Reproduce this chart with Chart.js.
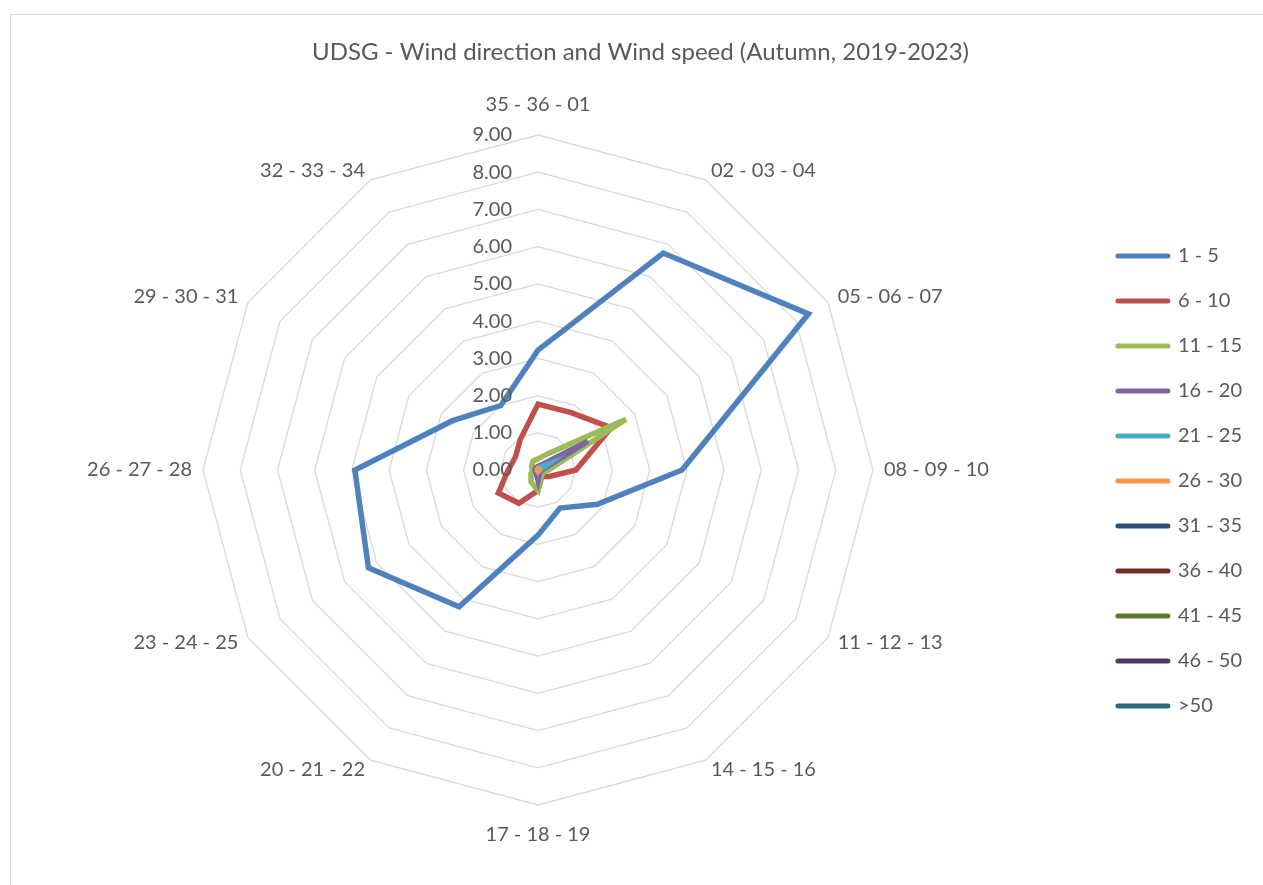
<!DOCTYPE html>
<html>
<head>
<meta charset="utf-8">
<title>UDSG - Wind direction and Wind speed</title>
<script src="https://cdn.jsdelivr.net/npm/chart.js@4.4.1/dist/chart.umd.min.js"></script>
<style>
  html, body { margin: 0; padding: 0; background: #fff; }
  #frame {
    position: absolute; left: 10px; top: 14px; width: 1253px; height: 871px;
    border-top: 1px solid #d9d9d9; border-left: 1px solid #d9d9d9; box-sizing: border-box;
  }
  #box { position: absolute; left: 0; top: 0; width: 1252px; height: 870px; }
</style>
</head>
<body>
<div id="frame"><div id="box"><canvas id="windChart"></canvas></div></div>
<script>
// Direction sectors (three 10-degree bins each), clockwise from north
const directions = [
    "35 - 36 - 01", "02 - 03 - 04", "05 - 06 - 07", "08 - 09 - 10",
    "11 - 12 - 13", "14 - 15 - 16", "17 - 18 - 19", "20 - 21 - 22",
    "23 - 24 - 25", "26 - 27 - 28", "29 - 30 - 31", "32 - 33 - 34"
];

const speedClasses = ["1 - 5", "6 - 10", "11 - 15", "16 - 20", "21 - 25", "26 - 30",
    "31 - 35", "36 - 40", "41 - 45", "46 - 50", ">50"];

const speedColors = ["#4f81bd", "#c0504d", "#9bbb59", "#8064a2", "#4bacc6", "#f79646",
    "#2c4d75", "#772c2a", "#5f7530", "#4d3b62", "#276a7c"];

// Frequency (%) per direction sector
const speed1to5   = [3.22, 6.73, 8.39, 3.87, 1.84, 1.18, 1.75, 4.24, 5.26, 4.92, 2.65, 2.00];
const speed6to10  = [1.77, 1.78, 2.27, 1.02, 0.35, 0.20, 0.55, 1.03, 1.23, 0.80, 0.70, 0.95];
const speed11to15 = [0.30, 0.50, 2.73, 0.28, 0.15, 0.18, 0.55, 0.37, 0.22, 0.15, 0.20, 0.27];
const speed16to20 = [0.10, 0.15, 1.55, 0.10, 0.08, 0.08, 0.27, 0.10, 0.08, 0.08, 0.08, 0.08];
const speed21to25 = [0.05, 0.08, 0.30, 0.05, 0.03, 0.03, 0.05, 0.03, 0.03, 0.03, 0.03, 0.03];
const speed26to30 = [0.03, 0.03, 0.04, 0.03, 0.02, 0.02, 0.03, 0.02, 0.02, 0.02, 0.02, 0.02];
const speed31to35 = [0, 0, 0, 0, 0, 0, 0, 0, 0, 0, 0, 0];
const speed36to40 = [0, 0, 0, 0, 0, 0, 0, 0, 0, 0, 0, 0];
const speed41to45 = [0, 0, 0, 0, 0, 0, 0, 0, 0, 0, 0, 0];
const speed46to50 = [0, 0, 0, 0, 0, 0, 0, 0, 0, 0, 0, 0];
const speedAbove50 = [0, 0, 0, 0, 0, 0, 0, 0, 0, 0, 0, 0];

const seriesValues = [speed1to5, speed6to10, speed11to15, speed16to20, speed21to25, speed26to30,
    speed31to35, speed36to40, speed41to45, speed46to50, speedAbove50];

const FONT = "Lato";
const TEXT_COLOR = "#595959";
const LABEL_SIZE = 20;
const LINE_WIDTH = 5.5;

Chart.defaults.font.family = FONT;

// Radar frame: fixed centre/radius, labels centred on their spoke,
// value labels drawn to the left of the north spoke
const radarFrame = {
    id: "radarFrame",
    afterLayout(chart) {
        const r = chart.scales.r;
        r.xCenter = 527;
        r.yCenter = 455;
        r.drawingArea = 335;

        const lh = LABEL_SIZE * 1.2;
        const n = r._pointLabels.length;
        r._pointLabelItems = r._pointLabels.map((text, i) => {
            const p = r.getPointPosition(i, r.drawingArea + 11);
            const deg = Math.round(i * 360 / n);
            let textAlign = "center";
            if (deg > 0 && deg < 180) textAlign = "left";
            if (deg > 180) textAlign = "right";
            let y = p.y - lh / 2;
            if (deg === 0) y = p.y - lh - 7;
            if (deg === 180) y = p.y + 7;
            return {visible: true, x: p.x, y: y, textAlign: textAlign,
                left: p.x, top: y, right: p.x, bottom: y + lh};
        });
    },
    afterDatasetsDraw(chart) {
        const r = chart.scales.r;
        const ctx = chart.ctx;
        ctx.save();
        ctx.font = LABEL_SIZE + "px " + FONT;
        ctx.fillStyle = TEXT_COLOR;
        ctx.textAlign = "right";
        ctx.textBaseline = "middle";
        r.ticks.forEach(t => {
            ctx.fillText(t.label, r.xCenter - 26, r.yCenter - r.getDistanceFromCenterForValue(t.value));
        });
        ctx.restore();
    }
};

const ctx = document.getElementById("windChart").getContext("2d");

const windChart = new Chart(ctx, {
    type: "radar",
    data: {
        labels: directions,
        datasets: speedClasses.map((name, i) => ({
            label: name,
            data: seriesValues[i],
            borderColor: speedColors[i],
            backgroundColor: speedColors[i],
            borderWidth: LINE_WIDTH,
            fill: false,
            pointRadius: 0,
            pointHoverRadius: 0,
            clip: false,
            order: speedClasses.length - i
        }))
    },
    plugins: [radarFrame],
    options: {
        responsive: true,
        maintainAspectRatio: false,
        animation: false,
        events: [],
        layout: {
            padding: {left: 18, right: 11, top: 0, bottom: 0}
        },
        scales: {
            r: {
                min: 0,
                max: 9,
                ticks: {
                    stepSize: 1,
                    display: false,
                    callback: v => v.toFixed(2)
                },
                grid: {
                    color: "#d9d9d9",
                    lineWidth: 1.3
                },
                angleLines: {
                    display: false
                },
                pointLabels: {
                    color: TEXT_COLOR,
                    font: {family: FONT, size: LABEL_SIZE}
                }
            }
        },
        plugins: {
            title: {
                display: true,
                text: "UDSG - Wind direction and Wind speed (Autumn, 2019-2023)",
                color: TEXT_COLOR,
                font: {family: FONT, size: 24, weight: "normal"},
                padding: {top: 23, bottom: 10}
            },
            legend: {
                position: "right",
                fullSize: false,
                labels: {
                    usePointStyle: true,
                    pointStyle: "line",
                    pointStyleWidth: 50,
                    padding: 25,
                    color: TEXT_COLOR,
                    font: {family: FONT, size: LABEL_SIZE},
                    sort: (a, b) => a.datasetIndex - b.datasetIndex,
                    generateLabels: chart =>
                        Chart.defaults.plugins.legend.labels.generateLabels(chart).map(item =>
                            Object.assign(item, {
                                lineWidth: 5,
                                lineCap: "round",
                                strokeStyle: speedColors[item.datasetIndex]
                            }))
                }
            },
            tooltip: {enabled: false}
        }
    }
});
</script>
</body>
</html>
